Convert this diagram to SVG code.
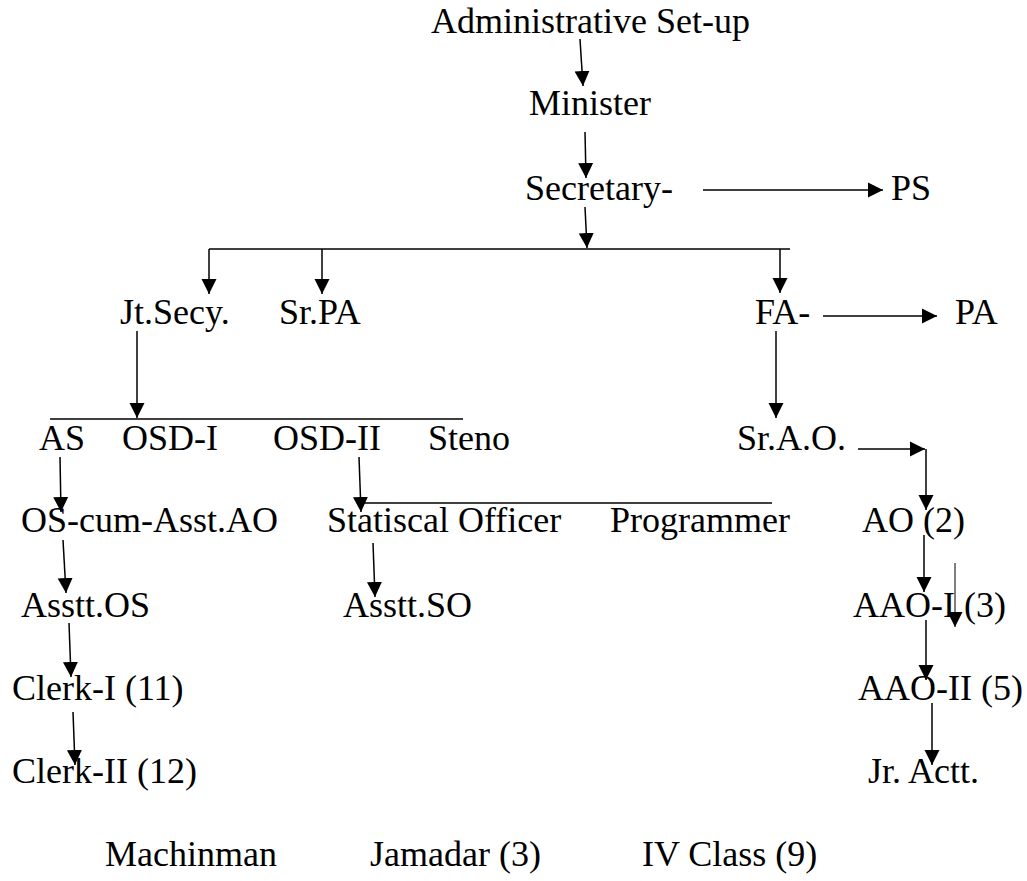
<svg xmlns="http://www.w3.org/2000/svg" width="1027" height="881" viewBox="0 0 1027 881">
<defs>
<marker id="ah" markerUnits="userSpaceOnUse" markerWidth="16" markerHeight="16" refX="15" refY="8" orient="auto" viewBox="0 0 16 16">
<path d="M0,0.5 L15,8 L0,15.5 z" fill="#000"/>
</marker>
<style>
text{font-family:"Liberation Serif","Times New Roman",serif;font-size:36px;fill:#000}
.c line{stroke:#000;stroke-width:1.5;fill:none}
.c line.a{marker-end:url(#ah)}
.c line.t{stroke-width:1}
</style>
</defs>
<rect width="1027" height="881" fill="#fff"/>
<g class="c" id="connectors">
<line class="a" x1="580" y1="39" x2="583" y2="86"/>
<line class="a" x1="585" y1="132" x2="586" y2="178"/>
<line class="a" x1="585" y1="207" x2="587" y2="248"/>
<line class="a" x1="703" y1="190" x2="883" y2="190"/>
<line x1="209" y1="249" x2="790" y2="249"/>
<line class="a" x1="209" y1="249" x2="209" y2="294"/>
<line class="a" x1="322" y1="249" x2="322" y2="294"/>
<line class="a" x1="780" y1="249" x2="780" y2="293"/>
<line class="a" x1="823" y1="316" x2="937" y2="316"/>
<line class="a" x1="137" y1="331" x2="137" y2="418"/>
<line x1="50" y1="419" x2="463" y2="419"/>
<line class="a" x1="776" y1="331" x2="776" y2="418"/>
<line class="a" x1="858" y1="449" x2="925" y2="449"/>
<line class="a" x1="926" y1="449" x2="926" y2="510"/>
<line class="a" x1="60" y1="457" x2="61" y2="512"/>
<line class="a" x1="359" y1="457" x2="361" y2="512"/>
<line x1="361" y1="503" x2="772" y2="503"/>
<line class="a" x1="63" y1="540" x2="66" y2="593"/>
<line class="a" x1="373" y1="543" x2="375" y2="597"/>
<line class="a" x1="924" y1="535" x2="924" y2="592"/>
<line class="a t" x1="955" y1="563" x2="955" y2="627"/>
<line class="a" x1="69" y1="623" x2="71" y2="677"/>
<line class="a" x1="926" y1="620" x2="926" y2="680"/>
<line class="a" x1="73" y1="712" x2="75" y2="765"/>
<line class="a" x1="932" y1="703" x2="932" y2="765"/>
</g>
<g id="n-admin"><text x="431" y="33">Administrative Set-up</text></g>
<g id="n-minister"><text x="529" y="115">Minister</text></g>
<g id="n-secretary"><text x="525" y="200">Secretary-</text></g>
<g id="n-ps"><text x="891" y="200">PS</text></g>
<g id="n-jtsecy"><text x="120" y="324">Jt.Secy.</text></g>
<g id="n-srpa"><text x="279" y="324">Sr.PA</text></g>
<g id="n-fa"><text x="755" y="324">FA-</text></g>
<g id="n-pa"><text x="955" y="324">PA</text></g>
<g id="n-as"><text x="39" y="450">AS</text></g>
<g id="n-osd1"><text x="122" y="450">OSD-I</text></g>
<g id="n-osd2"><text x="273" y="450">OSD-II</text></g>
<g id="n-steno"><text x="428" y="450">Steno</text></g>
<g id="n-srao"><text x="737" y="450">Sr.A.O.</text></g>
<g id="n-oscum"><text x="21" y="532">OS-cum-Asst.AO</text></g>
<g id="n-stat"><text x="327" y="532">Statiscal Officer</text></g>
<g id="n-prog"><text x="610" y="532">Programmer</text></g>
<g id="n-ao"><text x="862" y="532">AO (2)</text></g>
<g id="n-asstos"><text x="21" y="617">Asstt.OS</text></g>
<g id="n-asstso"><text x="343" y="617">Asstt.SO</text></g>
<g id="n-aao1"><text x="853" y="617">AAO-I (3)</text></g>
<g id="n-clerk1"><text x="12" y="700">Clerk-I (11)</text></g>
<g id="n-aao2"><text x="858" y="700">AAO-II (5)</text></g>
<g id="n-clerk2"><text x="12" y="783">Clerk-II (12)</text></g>
<g id="n-jractt"><text x="868" y="783">Jr. Actt.</text></g>
<g id="n-mach"><text x="105" y="866">Machinman</text></g>
<g id="n-jamadar"><text x="370" y="866">Jamadar (3)</text></g>
<g id="n-iv"><text x="642" y="866">IV Class (9)</text></g>
</svg>
